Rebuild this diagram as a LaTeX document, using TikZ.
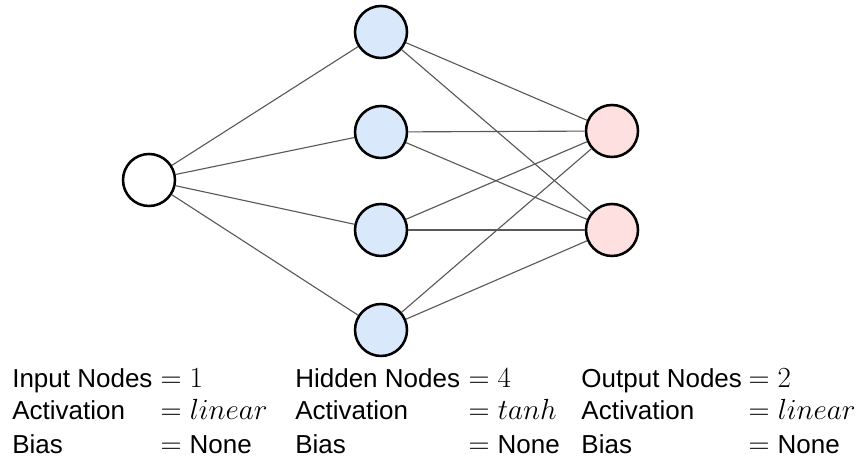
\documentclass[tikz,border=0pt]{standalone}
\usepackage{fontspec}
\setmainfont{Liberation Sans}
\definecolor{hidfill}{HTML}{DAE8FC}
\definecolor{outfill}{HTML}{FFE0E0}
\definecolor{wire}{HTML}{595959}
\newcommand{\plain}[1]{{\fontsize{18.5}{22}\selectfont #1}}
\begin{document}
\begin{tikzpicture}[
  neuron/.style={shape=circle, draw=black, line width=1.8pt, minimum size=1.3cm, inner sep=0pt},
  conn/.style={-, line width=0.8pt, draw=wire},
  txt/.style={anchor=base west, inner sep=0pt, font=\fontsize{18.5}{22}\selectfont},
  val/.style={txt, font=\fontsize{20.5}{24}\selectfont}]
\useasboundingbox (0,0) rectangle (21.4,11.7);
% neurons
\node[neuron, fill=white] (I) at (3.725,7.2) {};
\node[neuron, fill=hidfill] (H1) at (9.525,10.9) {};
\node[neuron, fill=hidfill] (H2) at (9.525,8.4) {};
\node[neuron, fill=hidfill] (H3) at (9.525,5.95) {};
\node[neuron, fill=hidfill] (H4) at (9.525,3.45) {};
\node[neuron, fill=outfill] (O1) at (15.3,8.425) {};
\node[neuron, fill=outfill] (O2) at (15.3,5.95) {};
% weights
\path [conn] (I) edge (H1);
\path [conn] (I) edge (H2);
\path [conn] (I) edge (H3);
\path [conn] (I) edge (H4);
\path [conn] (H1) edge (O1);
\path [conn] (H1) edge (O2);
\path [conn] (H2) edge (O1);
\path [conn] (H2) edge (O2);
\path [conn] (H3) edge (O1);
\path [conn] (H3) edge (O2);
\path [conn] (H4) edge (O1);
\path [conn] (H4) edge (O2);
% layer summaries
\node[txt] (inN) at (0.3,2.02) {Input Nodes};
\node[val] (inNv) at (4.01,2.02) {$= 1$};
\node[txt] (inA) at (0.3,1.2) {Activation};
\node[val] (inAv) at (4.01,1.2) {$= linear$};
\node[txt] (inB) at (0.3,0.36) {Bias};
\node[val] (inBv) at (4.01,0.36) {$=$ \plain{None}};
\node[txt] (hidN) at (7.375,2.02) {Hidden Nodes};
\node[val] (hidNv) at (11.71,2.02) {$= 4$};
\node[txt] (hidA) at (7.375,1.2) {Activation};
\node[val] (hidAv) at (11.71,1.2) {$= tanh$};
\node[txt] (hidB) at (7.375,0.36) {Bias};
\node[val] (hidBv) at (11.71,0.36) {$=$ \plain{None}};
\node[txt] (outN) at (14.53,2.02) {Output Nodes};
\node[val] (outNv) at (18.71,2.02) {$= 2$};
\node[txt] (outA) at (14.53,1.2) {Activation};
\node[val] (outAv) at (18.71,1.2) {$= linear$};
\node[txt] (outB) at (14.53,0.36) {Bias};
\node[val] (outBv) at (18.71,0.36) {$=$ \plain{None}};
\end{tikzpicture}
\end{document}
